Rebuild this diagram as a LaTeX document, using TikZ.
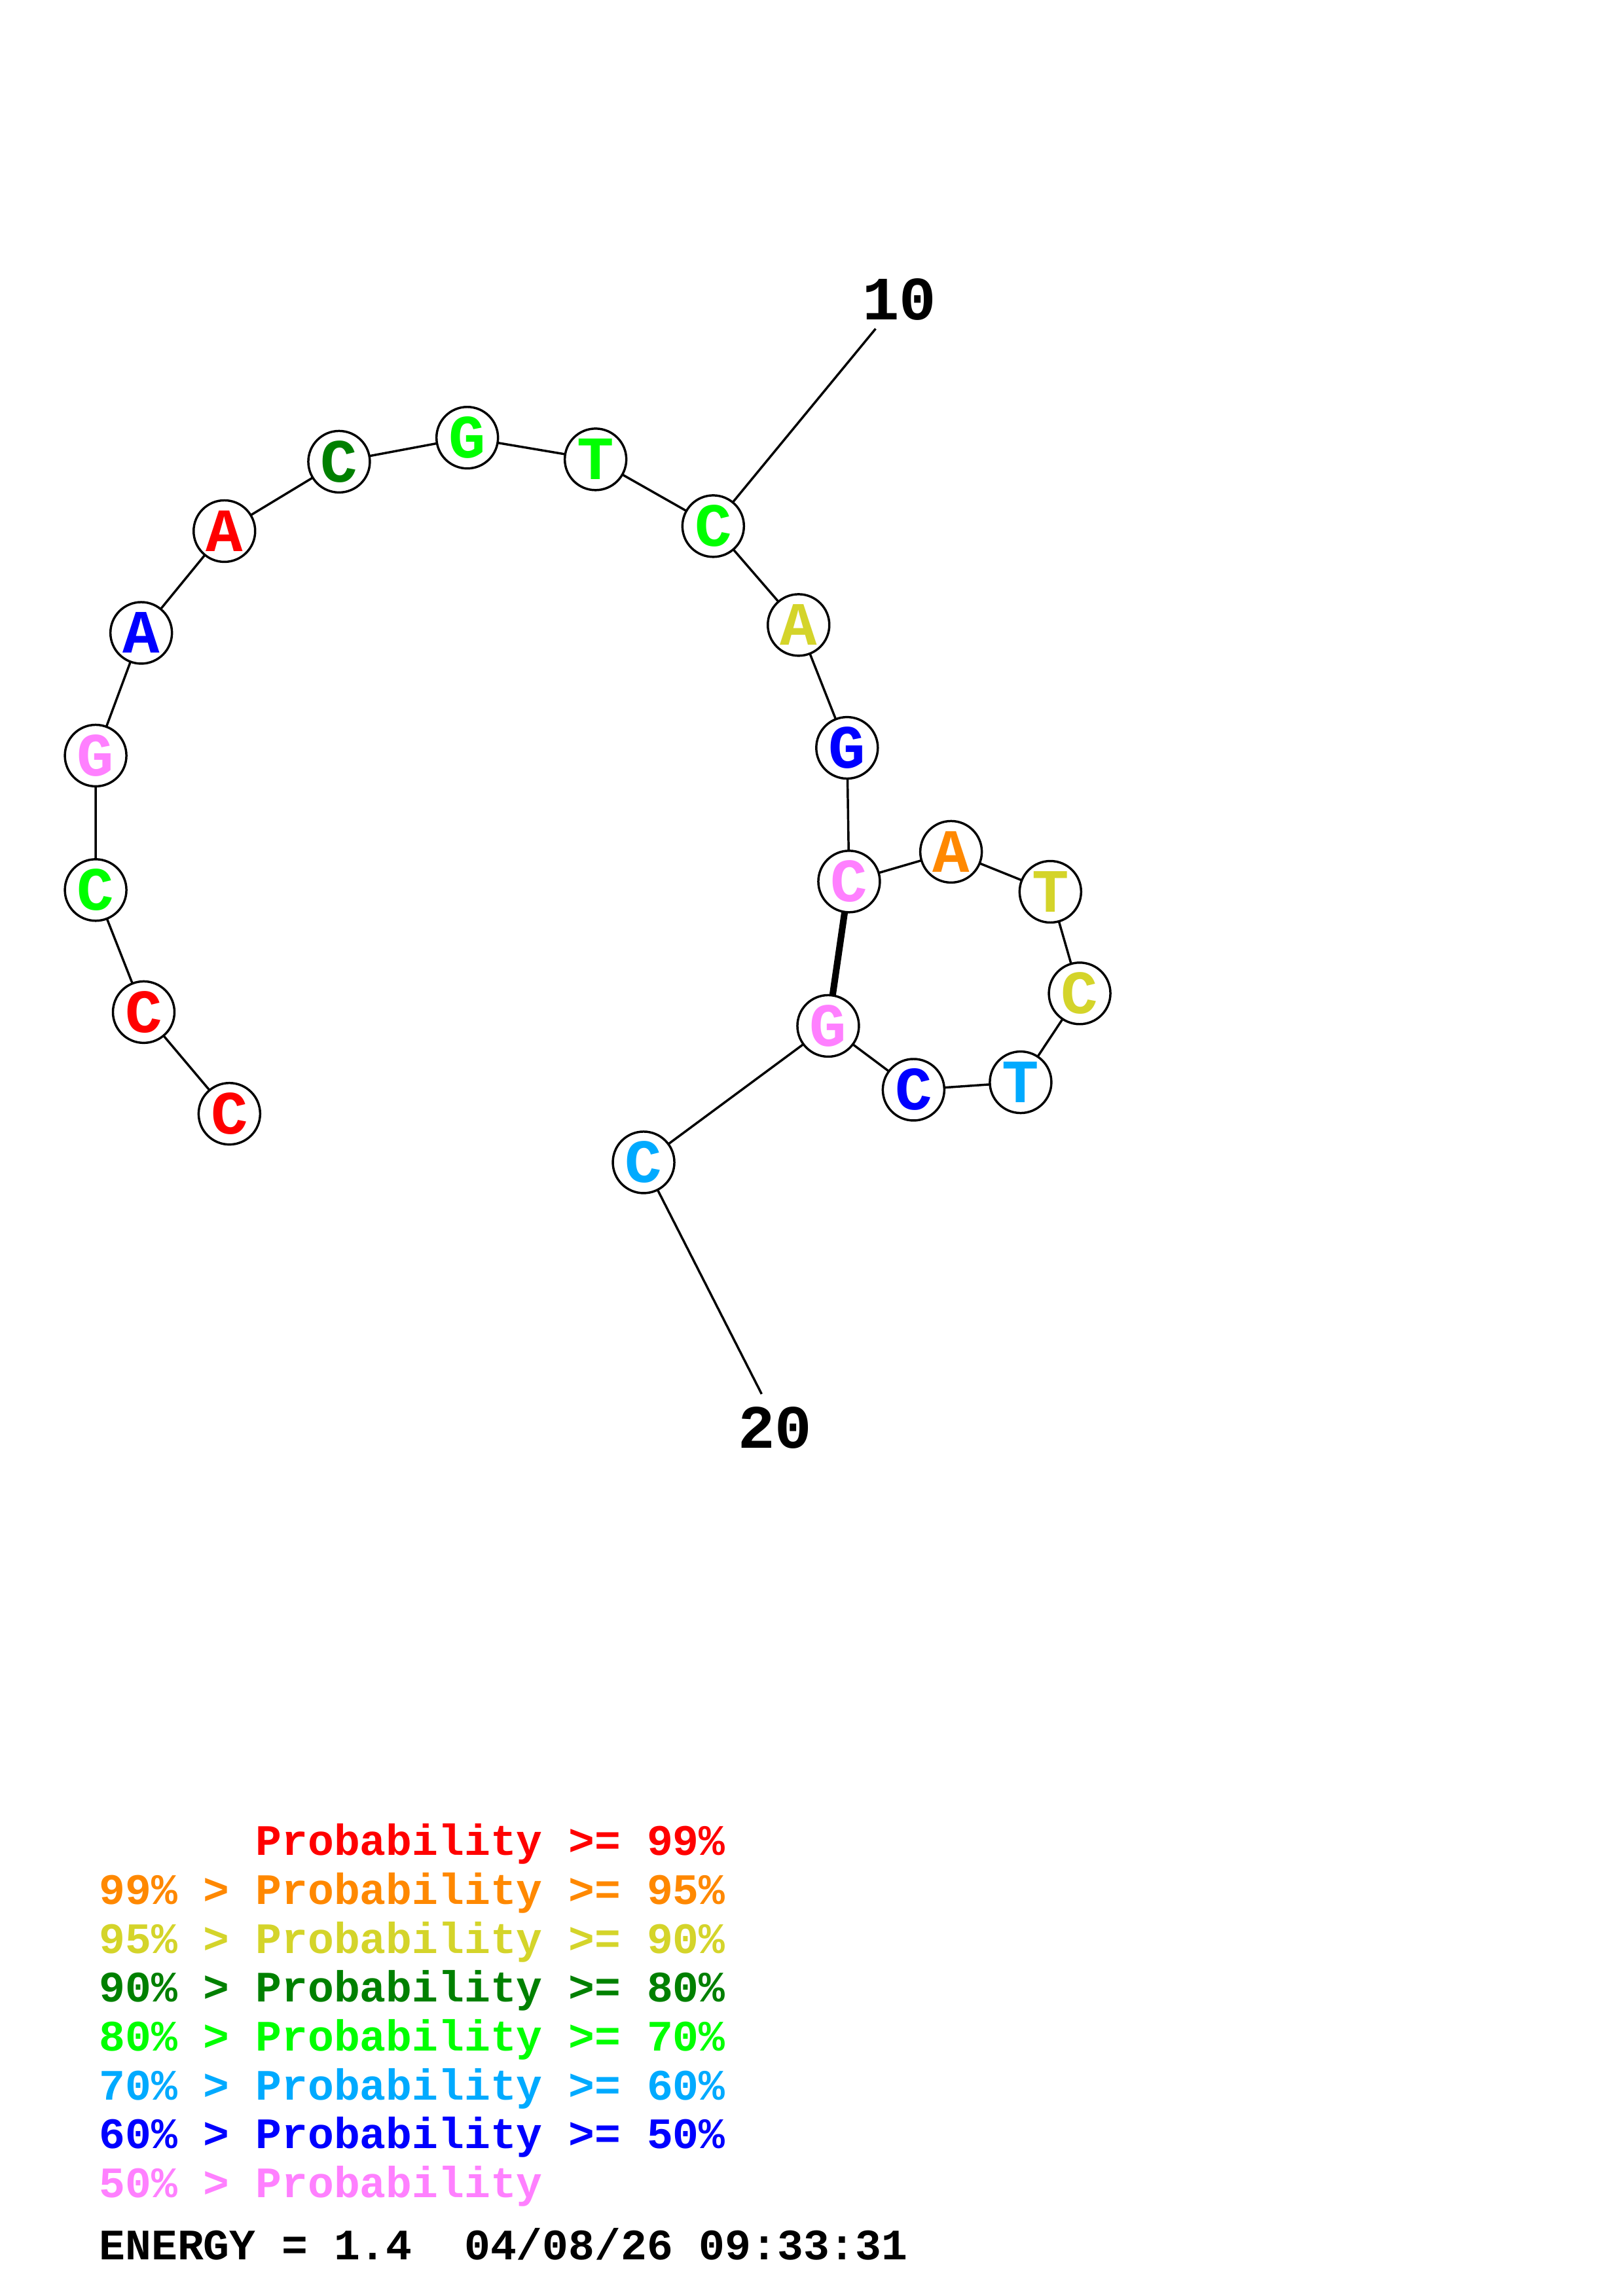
\documentclass[tikz,border=0pt]{standalone}
\usepackage{fontspec}
\setmonofont{Liberation Mono}
\definecolor{cred}{RGB}{255,0,0}
\definecolor{corange}{RGB}{255,136,0}
\definecolor{cyellow}{RGB}{212,212,42}
\definecolor{cdgreen}{RGB}{0,128,0}
\definecolor{cgreen}{RGB}{0,255,0}
\definecolor{clblue}{RGB}{0,170,255}
\definecolor{cblue}{RGB}{0,0,255}
\definecolor{cpink}{RGB}{255,128,255}
\begin{document}
\begin{tikzpicture}[x=0.025cm,y=-0.025cm,
  base/.style={circle,draw=black,fill=white,line width=1.1pt,minimum size=1.05cm,inner sep=0pt,
    font=\fontsize{29.9}{30}\selectfont\ttfamily\bfseries},
  bond/.style={line width=1.1pt,black},
  pair/.style={line width=3.2pt,black},
  numlab/.style={font=\fontsize{29.9}{30}\selectfont\ttfamily\bfseries,inner sep=0pt},
  leg/.style={anchor=base west,inner sep=0pt,font=\fontsize{21.1}{22}\selectfont\ttfamily\bfseries}]
\useasboundingbox (0,0) rectangle (1108,1568);
% connectors first
\coordinate (p1)  at (156.6,760.6);
\coordinate (p2)  at (98.1,691.2);
\coordinate (p3)  at (65.3,607.8);
\coordinate (p4)  at (65.3,516);
\coordinate (p5)  at (96.4,432.2);
\coordinate (p6)  at (153.2,362.7);
\coordinate (p7)  at (231.5,315.3);
\coordinate (p8)  at (319,298.9);
\coordinate (p9)  at (406.6,313.7);
\coordinate (p10) at (486.9,359.3);
\coordinate (p11) at (545.2,426.8);
\coordinate (p12) at (578.3,510.7);
\coordinate (p13) at (579.7,602);
\coordinate (p14) at (649.3,581.7);
\coordinate (p15) at (717.1,609);
\coordinate (p16) at (737.1,678.4);
\coordinate (p17) at (696.8,739.1);
\coordinate (p18) at (623.7,744.2);
\coordinate (p19) at (565.4,700.6);
\coordinate (p20) at (439.4,793.8);
\coordinate (e10) at (597.8,224.5);
\coordinate (e20) at (520,952);
\draw[bond] (p1)--(p2)--(p3)--(p4)--(p5)--(p6)--(p7)--(p8)--(p9)--(p10)--(p11)--(p12)--(p13)--(p14)--(p15)--(p16)--(p17)--(p18)--(p19)--(p20);
\draw[bond] (p10)--(e10);
\draw[bond] (p20)--(e20);
\draw[pair] (p13)--(p19);
% bases
\node[base,text=cred]    (n1)  at (p1)  {C};
\node[base,text=cred]    (n2)  at (p2)  {C};
\node[base,text=cgreen]  (n3)  at (p3)  {C};
\node[base,text=cpink]   (n4)  at (p4)  {G};
\node[base,text=cblue]   (n5)  at (p5)  {A};
\node[base,text=cred]    (n6)  at (p6)  {A};
\node[base,text=cdgreen] (n7)  at (p7)  {C};
\node[base,text=cgreen]  (n8)  at (p8)  {G};
\node[base,text=cgreen]  (n9)  at (p9)  {T};
\node[base,text=cgreen]  (n10) at (p10) {C};
\node[base,text=cyellow] (n11) at (p11) {A};
\node[base,text=cblue]   (n12) at (p12) {G};
\node[base,text=cpink]   (n13) at (p13) {C};
\node[base,text=corange] (n14) at (p14) {A};
\node[base,text=cyellow] (n15) at (p15) {T};
\node[base,text=cyellow] (n16) at (p16) {C};
\node[base,text=clblue]  (n17) at (p17) {T};
\node[base,text=cblue]   (n18) at (p18) {C};
\node[base,text=cpink]   (n19) at (p19) {G};
\node[base,text=clblue]  (n20) at (p20) {C};
\node[numlab] (l10) at (613.9,204.3) {10};
\node[numlab] (l20) at (529,975) {20};
% legend
\node[leg,text=cred]    (g1) at (67.5,1267) {\phantom{99\% > }Probability >= 99\%};
\node[leg,text=corange] (g2) at (67.5,1300.4) {99\% > Probability >= 95\%};
\node[leg,text=cyellow] (g3) at (67.5,1333.8) {95\% > Probability >= 90\%};
\node[leg,text=cdgreen] (g4) at (67.5,1367.2) {90\% > Probability >= 80\%};
\node[leg,text=cgreen]  (g5) at (67.5,1400.6) {80\% > Probability >= 70\%};
\node[leg,text=clblue]  (g6) at (67.5,1434) {70\% > Probability >= 60\%};
\node[leg,text=cblue]   (g7) at (67.5,1467.4) {60\% > Probability >= 50\%};
\node[leg,text=cpink]   (g8) at (67.5,1500.8) {50\% > Probability};
\node[leg,text=black]   (g9) at (67.5,1543) {ENERGY = 1.4\ \ 04/08/26 09:33:31};
\end{tikzpicture}
\end{document}
